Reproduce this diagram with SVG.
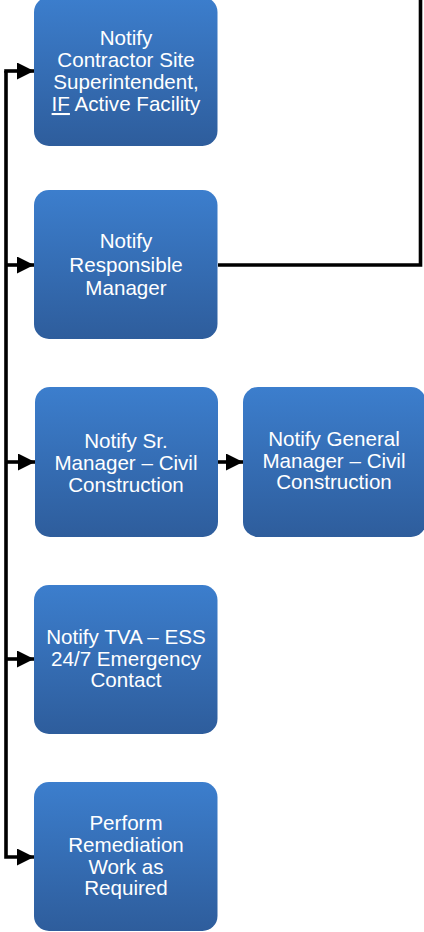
<svg xmlns="http://www.w3.org/2000/svg" width="424" height="932" viewBox="0 0 424 932">
<defs>
<linearGradient id="g" x1="0" y1="0" x2="0" y2="1">
<stop offset="0" stop-color="#3C7ECD"/>
<stop offset="1" stop-color="#2E5D9C"/>
</linearGradient>
<marker id="ah" markerUnits="userSpaceOnUse" markerWidth="18" markerHeight="18" refX="17" refY="8.5" orient="auto">
<path d="M0,0 L17,8.5 L0,17 z" fill="#000"/>
</marker>
<style>
.box{fill:url(#g)}
.t{font-family:"Liberation Sans",Arial,sans-serif;font-size:20.6px;fill:#fff;text-anchor:middle}
.c{fill:none;stroke:#000;stroke-width:3.6}
</style>
</defs>
<g id="connectors">
<path class="c" d="M6,71 L6,857 L34,857" marker-end="url(#ah)"/>
<path class="c" d="M4.2,71 L34,71" marker-end="url(#ah)"/>
<path class="c" d="M6,265 L34,265" marker-end="url(#ah)"/>
<path class="c" d="M6,462 L35,462" marker-end="url(#ah)"/>
<path class="c" d="M6,659 L34,659" marker-end="url(#ah)"/>
<path class="c" d="M218,462 L243,462" marker-end="url(#ah)"/>
<path class="c" d="M218,265 L420.5,265 L420.5,0"/>
</g>
<g id="n1">
<rect class="box" x="34" y="-3" width="183.5" height="149" rx="15"/>
<text class="t"><tspan x="126" y="45">Notify</tspan><tspan x="126" y="67">Contractor Site</tspan><tspan x="126" y="89">Superintendent,</tspan><tspan x="126" y="111"><tspan text-decoration="underline">IF</tspan> Active Facility</tspan></text>
</g>
<g id="n2">
<rect class="box" x="34" y="190" width="183.5" height="149" rx="15"/>
<text class="t"><tspan x="126" y="248">Notify</tspan><tspan x="126" y="271.5">Responsible</tspan><tspan x="126" y="295">Manager</tspan></text>
</g>
<g id="n3">
<rect class="box" x="35" y="387" width="183" height="150" rx="15"/>
<text class="t"><tspan x="126" y="448">Notify Sr.</tspan><tspan x="126" y="470">Manager – Civil</tspan><tspan x="126" y="492">Construction</tspan></text>
</g>
<g id="n4">
<rect class="box" x="243" y="387" width="183" height="150" rx="15"/>
<text class="t"><tspan x="334" y="446">Notify General</tspan><tspan x="334" y="467.5">Manager – Civil</tspan><tspan x="334" y="489">Construction</tspan></text>
</g>
<g id="n5">
<rect class="box" x="34" y="585" width="183.5" height="149" rx="15"/>
<text class="t"><tspan x="126" y="644">Notify TVA – ESS</tspan><tspan x="126" y="665.5">24/7 Emergency</tspan><tspan x="126" y="687">Contact</tspan></text>
</g>
<g id="n6">
<rect class="box" x="34" y="782" width="183.5" height="149" rx="15"/>
<text class="t"><tspan x="126" y="830">Perform</tspan><tspan x="126" y="852">Remediation</tspan><tspan x="126" y="873.5">Work as</tspan><tspan x="126" y="895">Required</tspan></text>
</g>
</svg>
